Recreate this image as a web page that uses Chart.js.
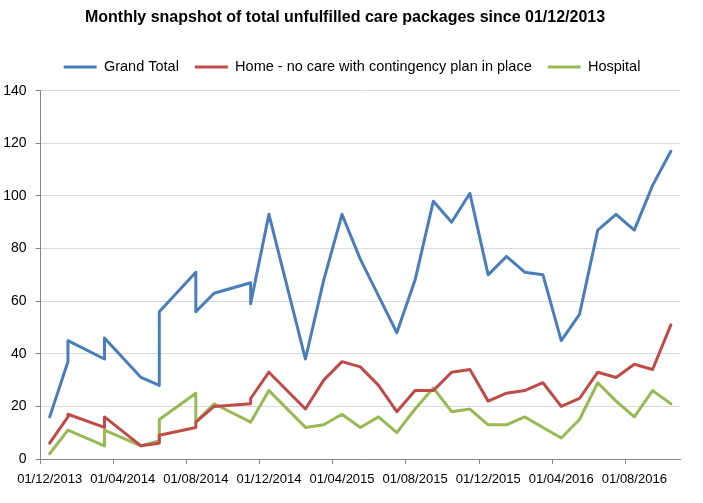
<!DOCTYPE html>
<html>
<head>
<meta charset="utf-8">
<script src="https://cdn.jsdelivr.net/npm/chart.js@4.4.0/dist/chart.umd.min.js"></script>
<style>
html,body{margin:0;padding:0;background:#fff;}
#wrap{width:703px;height:503px;position:relative;}
</style>
</head>
<body>
<div id="wrap"><canvas id="c" width="703" height="503"></canvas></div>
<script>
// Month offset of each snapshot (0 = Dec 2013); repeated months hold two snapshots
const snapshotMonth = [0, 1, 1, 3, 3, 5, 6, 6, 8, 8, 9, 11, 11, 12, 14, 15, 16, 17, 18, 19, 20, 21, 22, 23, 24, 25, 26, 27, 28, 29, 30, 31, 32, 33, 34];
const grandTotal    = [16, 37, 45, 38, 46, 31, 28, 56, 71, 56, 63, 67, 59, 93, 38, 68, 93, 76, 62, 48, 68, 98, 90, 101, 70, 77, 71, 70, 45, 55, 87, 93, 87, 104, 117];
const homeNoCare    = [6, 16, 17, 12, 16, 5, 6, 9, 12, 14, 20, 21, 23, 33, 19, 30, 37, 35, 28, 18, 26, 26, 33, 34, 22, 25, 26, 29, 20, 23, 33, 31, 36, 34, 51];
const hospital      = [2, 11, 11, 5, 11, 5, 7, 15, 25, 14, 21, 14, 14, 26, 12, 13, 17, 12, 16, 10, 19, 27, 18, 19, 13, 13, 16, 12, 8, 15, 29, 22, 16, 26, 21];

const seriesNames = ['Grand Total', 'Home - no care with contingency plan in place', 'Hospital'];
const seriesColors = ['#4A7EBB', '#BE4B48', '#98B954'];

const xTickMonth  = [0, 4, 8, 12, 16, 20, 24, 28, 32];
const xTickLabels = ['01/12/2013', '01/04/2014', '01/08/2014', '01/12/2014', '01/04/2015', '01/08/2015', '01/12/2015', '01/04/2016', '01/08/2016'];
const monthCount = 35;

const toPoints = arr => arr.map((v, i) => ({x: snapshotMonth[i], y: v}));
const seriesValues = [grandTotal, homeNoCare, hospital];

const FONT = 'Liberation Sans';
const AXIS = '#868686';

function shiftDraw(box, dx) {
  const orig = box.draw;
  box.draw = function () {
    const ctx = this.ctx;
    ctx.save();
    ctx.translate(dx, 0);
    orig.apply(this, arguments);
    ctx.restore();
  };
}

const headerTweaks = {
  id: 'headerTweaks',
  afterInit(chart) {
    const lg = chart.legend;
    if (lg) {
      const origFit = lg.fit;
      lg.fit = function () { origFit.call(this); this.height = 47; };
      shiftDraw(lg, 12);
    }
    if (chart.titleBlock) shiftDraw(chart.titleBlock, 5);
  }
};

new Chart(document.getElementById('c'), {
  type: 'line',
  plugins: [headerTweaks],
  data: {
    datasets: seriesValues.map((vals, k) => ({
      label: seriesNames[k],
      data: toPoints(vals),
      borderColor: seriesColors[k],
      backgroundColor: seriesColors[k],
      borderWidth: 3,
      pointRadius: 0,
      pointHoverRadius: 0,
      tension: 0,
      borderJoinStyle: 'round',
      borderCapStyle: 'round',
      fill: false
    }))
  },
  options: {
    responsive: false,
    animation: false,
    devicePixelRatio: 1,
    layout: {padding: {left: 0, right: 23, top: 0, bottom: 0}},
    plugins: {
      title: {
        display: true,
        text: 'Monthly snapshot of total unfulfilled care packages since 01/12/2013',
        color: '#000',
        font: {family: FONT, size: 16, weight: 'bold'},
        padding: {top: 8, bottom: 16.5}
      },
      legend: {
        position: 'top',
        labels: {
          usePointStyle: true,
          pointStyle: 'line',
          pointStyleWidth: 33,
          padding: 16,
          color: '#000',
          font: {family: FONT, size: 14.5}
        }
      },
      tooltip: {enabled: false}
    },
    scales: {
      x: {
        type: 'linear',
        min: -0.5,
        max: monthCount - 0.5,
        afterBuildTicks: s => { s.ticks = xTickMonth.map(m => ({value: m - 0.5})); },
        afterFit: s => { s.height = 44; },
        ticks: {
          callback: (v, i) => xTickLabels[i],
          labelOffset: 9.16,
          autoSkip: false,
          maxRotation: 0,
          minRotation: 0,
          padding: 8,
          color: '#000',
          font: {family: FONT, size: 13}
        },
        grid: {drawOnChartArea: false, drawTicks: true, tickLength: 5, tickColor: AXIS},
        border: {color: AXIS, width: 1}
      },
      y: {
        min: 0,
        max: 140,
        afterFit: s => { s.width = 39; },
        ticks: {
          stepSize: 20,
          padding: 9,
          color: '#000',
          font: {family: FONT, size: 14}
        },
        grid: {color: '#D9D9D9', lineWidth: 1, drawTicks: true, tickLength: 5, tickColor: AXIS},
        border: {color: AXIS, width: 1}
      }
    }
  }
});
</script>
</body>
</html>
